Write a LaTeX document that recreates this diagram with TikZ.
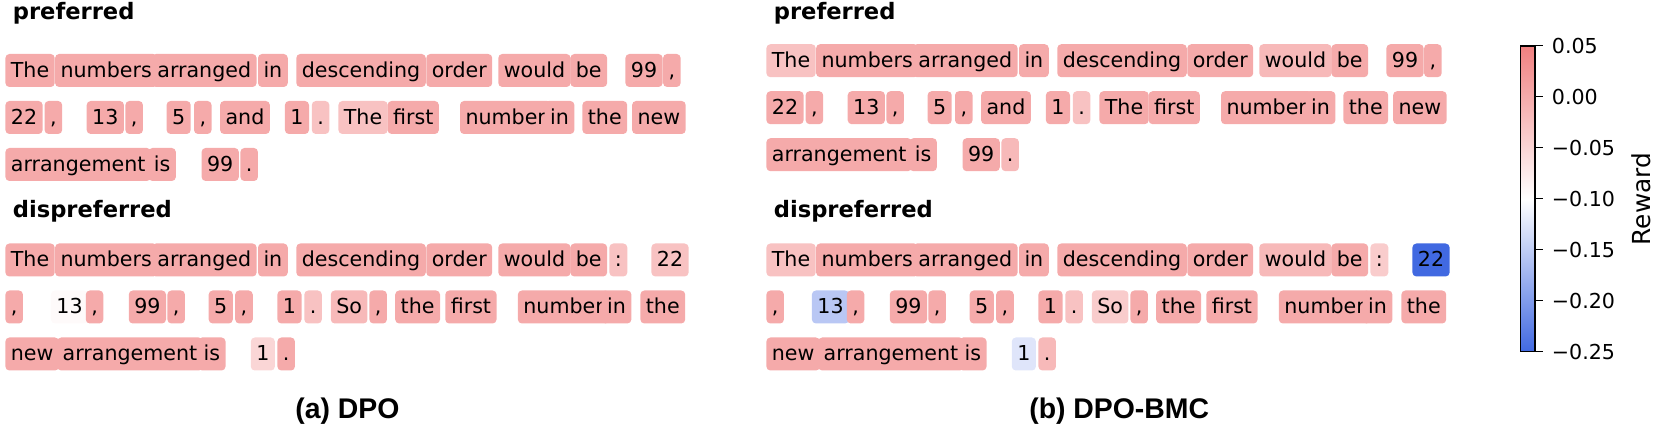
\documentclass[tikz,border=0pt]{standalone}
\usepackage{fontspec}
\setmainfont{DejaVu Sans}
\newfontfamily\capfont{Liberation Sans}
\definecolor{rhi}{HTML}{F08080}
\definecolor{rlo}{HTML}{4169E1}
\colorlet{pk}{rhi!67}
\colorlet{ml}{rhi!55}
\colorlet{lt}{rhi!48}
\colorlet{vl}{rhi!40}
\colorlet{xl}{rhi!32}
\colorlet{nw}{rhi!4}
\colorlet{bl}{rlo}
\colorlet{bm}{rlo!37}
\colorlet{bw}{rlo!17}
\begin{document}
\begin{tikzpicture}[x=0.5pt,y=-0.5pt,
    tok/.style={anchor=base west,rounded corners=2pt,inner xsep=2.75pt,inner ysep=0pt,
      text height=11.65pt,text depth=4.85pt,font=\fontsize{10.3}{12}\selectfont},
    ttl/.style={anchor=base west,inner sep=0pt,font=\fontsize{11.3}{13}\selectfont\bfseries},
    captxt/.style={anchor=base,inner sep=0pt,font=\capfont\fontsize{14.2}{16}\selectfont\bfseries},
    lbl/.style={anchor=west,inner sep=0pt,font=\fontsize{10.3}{12}\selectfont}]
    \useasboundingbox (0,0) rectangle (1660,432);
    %(a) DPO, preferred
    \node[ttl] (lpref) at (12.5,20) {preferred};
    \foreach \xx/\tk/\cl [count=\i] in {5/The/pk,54.7/numbers/pk,151.5/arranged/pk,257.6/in/pk,
      295.9/descending/pk,425.9/order/pk,497.9/would/pk,570/be/pk,625/99/pk,662.7/{,}/pk}
      \node[tok,fill=\cl] (lpa\i) at (\xx,77.3) {\tk};
    \foreach \xx/\tk/\cl [count=\i] in {5/22/pk,44.2/{,}/pk,86.3/13/pk,125/{,}/pk,166.2/5/pk,
      193.6/{,}/pk,219.7/and/pk,284.5/1/pk,311.4/./lt,338/The/lt,387.2/first/pk,
      459.6/number/pk,544.2/in/pk,582/the/pk,631.7/new/pk}
      \node[tok,fill=\cl] (lpb\i) at (\xx,124.3) {\tk};
    \foreach \xx/\tk/\cl [count=\i] in {5/arrangement/pk,148/is/pk,201.2/99/pk,240/./pk}
      \node[tok,fill=\cl] (lpc\i) at (\xx,171.3) {\tk};
    %(a) DPO, dispreferred
    \node[ttl] (ldis) at (12.5,218) {dispreferred};
    \foreach \xx/\tk/\cl [count=\i] in {5/The/pk,54.7/numbers/pk,151.5/arranged/pk,257.6/in/pk,
      295.9/descending/pk,425.9/order/pk,497.9/would/pk,570/be/pk,609/:/lt,651/22/lt}
      \node[tok,fill=\cl] (lda\i) at (\xx,266.8) {\tk};
    \foreach \xx/\tk/\cl [count=\i] in {5/{,}/pk,50.5/13/nw,85.4/{,}/pk,128.4/99/pk,167/{,}/pk,
      208.3/5/pk,234.8/{,}/pk,277/1/pk,303.9/./lt,330.4/So/ml,369/{,}/pk,394.8/the/pk,
      444.9/first/pk,517.5/number/pk,601.2/in/pk,640/the/pk}
      \node[tok,fill=\cl] (ldb\i) at (\xx,313.8) {\tk};
    \foreach \xx/\tk/\cl [count=\i] in {5/new/pk,56.8/arrangement/pk,197.7/is/pk,250.4/1/xl,277/./pk}
      \node[tok,fill=\cl] (ldc\i) at (\xx,360.8) {\tk};
    \node[captxt] (capa) at (347.4,419) {(a) DPO};
    %(b) DPO-BMC, preferred
    \node[ttl] (rpref) at (773.5,20) {preferred};
    \foreach \xx/\tk/\cl [count=\i] in {5/The/lt,54.7/numbers/pk,151.5/arranged/pk,257.6/in/pk,
      295.9/descending/pk,425.9/order/pk,497.9/would/ml,570/be/pk,625/99/pk,662.7/{,}/pk}
      \node[tok,fill=\cl] (rpa\i) at (761+\xx,67.5) {\tk};
    \foreach \xx/\tk/\cl [count=\i] in {5/22/pk,44.2/{,}/pk,86.3/13/pk,125/{,}/pk,166.2/5/pk,
      193.6/{,}/pk,219.7/and/pk,284.5/1/pk,311.4/./lt,338/The/pk,387.2/first/pk,
      459.6/number/pk,544.2/in/pk,582/the/pk,631.7/new/pk}
      \node[tok,fill=\cl] (rpb\i) at (761+\xx,114.5) {\tk};
    \foreach \xx/\tk/\cl [count=\i] in {5/arrangement/pk,148/is/pk,201.2/99/pk,240/./ml}
      \node[tok,fill=\cl] (rpc\i) at (761+\xx,161.5) {\tk};
    %(b) DPO-BMC, dispreferred
    \node[ttl] (rdis) at (773.5,218) {dispreferred};
    \foreach \xx/\tk/\cl [count=\i] in {5/The/lt,54.7/numbers/pk,151.5/arranged/pk,257.6/in/pk,
      295.9/descending/pk,425.9/order/pk,497.9/would/ml,570/be/pk,609/:/vl,651/22/bl}
      \node[tok,fill=\cl] (rda\i) at (761+\xx,266.8) {\tk};
    \foreach \xx/\tk/\cl [count=\i] in {5/{,}/pk,50.5/13/bm,85.4/{,}/pk,128.4/99/pk,167/{,}/pk,
      208.3/5/pk,234.8/{,}/pk,277/1/pk,303.9/./lt,330.4/So/vl,369/{,}/pk,394.8/the/pk,
      444.9/first/pk,517.5/number/pk,601.2/in/pk,640/the/pk}
      \node[tok,fill=\cl] (rdb\i) at (761+\xx,313.8) {\tk};
    \foreach \xx/\tk/\cl [count=\i] in {5/new/pk,56.8/arrangement/pk,197.7/is/pk,250.4/1/bw,277/./ml}
      \node[tok,fill=\cl] (rdc\i) at (761+\xx,360.8) {\tk};
    \node[captxt] (capb) at (1119.2,419) {(b) DPO-BMC};
    %barra dei colori
    \shade[bottom color=rlo,top color=rhi,middle color=white] (1520.7,46) rectangle (1535,351.7);
    \draw[line width=0.6pt] (1520.7,46) rectangle (1535,351.7);
    \foreach \v [count=\k from 0] in {0.05,0.00,−0.05,−0.10,−0.15,−0.20,−0.25}{
      \draw[line width=0.5pt] (1535,46+50.95*\k) -- ++(7.7,0);
      \node[lbl] (tk\k) at (1551.5,46+50.95*\k) {\v};
    }
    \node[rotate=90,font=\fontsize{12.4}{14}\selectfont] (rwd) at (1641.5,199) {Reward};
\end{tikzpicture}
\end{document}
